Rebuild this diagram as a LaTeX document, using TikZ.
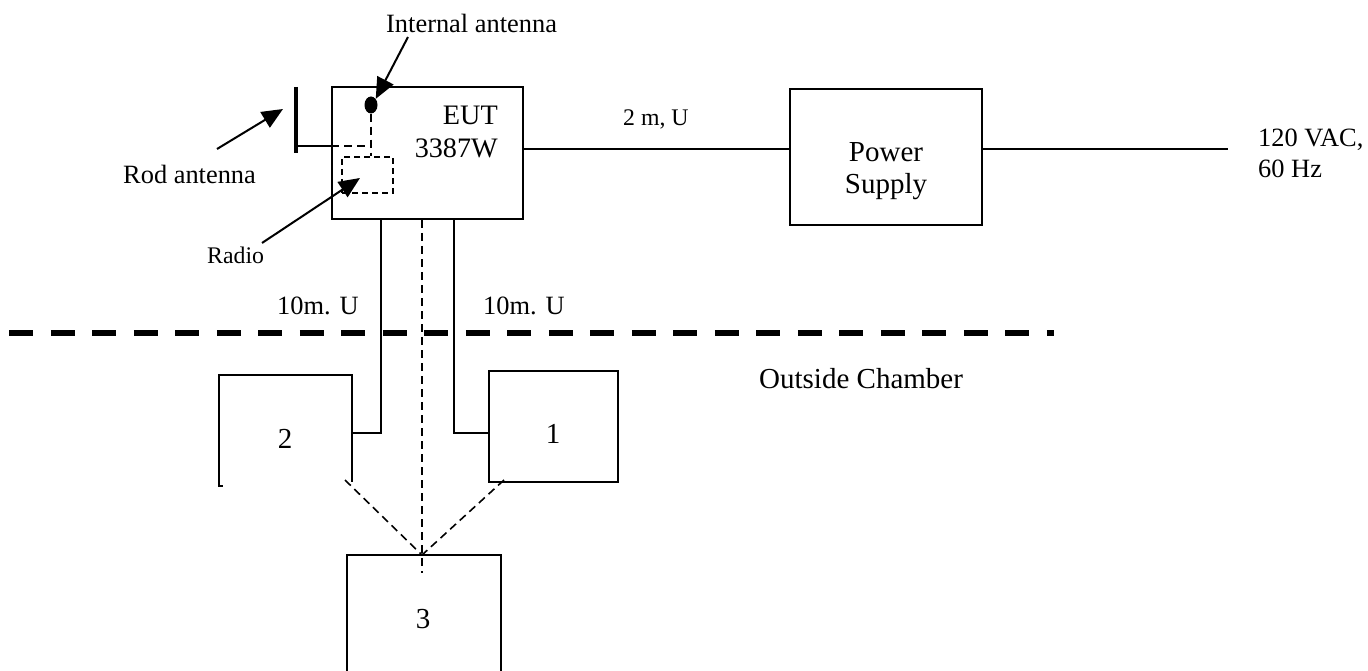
\documentclass[tikz,border=0pt]{standalone}
\usepackage{fontspec}
\setmainfont{Liberation Serif}
\usetikzlibrary{arrows.meta,shapes.geometric,calc}
\begin{document}
\begin{tikzpicture}[x=1pt,y=-1pt,
  wire/.style={line width=2pt},
  boxx/.style={draw,line width=2pt,inner sep=0pt},
  hidebox/.style={inner sep=0pt},
  lbl/.style={inner sep=0pt,font=\fontsize{26.4}{30}\selectfont},
  smalllbl/.style={inner sep=0pt,font=\fontsize{23.8}{27}\selectfont},
  biglbl/.style={inner sep=0pt,font=\fontsize{29}{31}\selectfont},
  dsh/.style={line width=1.6pt,dash pattern=on 8pt off 5pt},
  ptr/.style={line width=2pt,-{Triangle[length=21pt,width=18pt]}},
]
\useasboundingbox (0,0) rectangle (1368,671);

% boxes
\node[boxx,minimum width=191pt,minimum height=132pt] (eut) at (427.5,153) {};
\node[boxx,minimum width=192pt,minimum height=136pt] (ps) at (886,157) {};
\node[boxx,minimum width=129pt,minimum height=111pt] (b1) at (553.5,426.5) {};
\node[hidebox,minimum width=133pt,minimum height=111pt] (b2) at (285.5,430.5) {};
\node[hidebox,minimum width=154pt,minimum height=116pt] (b3) at (424,613) {};
\node[draw,dsh,line width=1.6pt,dash pattern=on 6pt off 4pt,inner sep=0pt,minimum width=51pt,minimum height=36pt] (radio) at (367.5,175) {};
\node[fill,ellipse,inner sep=0pt,minimum width=13pt,minimum height=17pt] (dot) at (371,105) {};

% partial outlines of boxes 2 and 3
\draw[wire] ($(b2.south west)+(4,0)$) -- (b2.south west) -- (b2.north west) -- (b2.north east) -- ($(b2.south east)+(0,-4)$);
\draw[wire] (b3.south west) -- (b3.north west) -- (b3.north east) -- (b3.south east);

% texts
\node[lbl,anchor=base west] (tint) at (386,33) {Internal antenna};
\node[lbl,anchor=base west] (trod) at (123,184) {Rod antenna};
\node[smalllbl,anchor=base west] (trad) at (207,263) {Radio};
\node[biglbl,anchor=base east,font=\fontsize{28.2}{31}\selectfont] (teut) at (498,125) {EUT};
\node[biglbl,anchor=base east,font=\fontsize{28.2}{31}\selectfont] (tnum) at (498,158) {3387W};
\node[smalllbl,anchor=base west] (t2m) at (623,126) {2 m, U};
\node[biglbl,anchor=base] (tpow) at (886,162) {Power};
\node[biglbl,anchor=base] (tsup) at (886,194) {Supply};
\node[lbl,anchor=base west] (tvac) at (1258,147) {120 VAC,};
\node[lbl,anchor=base west] (thz) at (1258,178) {60 Hz};
\node[lbl,anchor=base west] (t10a) at (277,314) {10m. U};
\node[lbl,anchor=base west] (t10b) at (483,314) {10m. U};
\node[biglbl,anchor=base west] (tout) at (759,388) {Outside Chamber};
\node[biglbl,anchor=base] (n1) at (553,443) {1};
\node[biglbl,anchor=base] (n2) at (285,448) {2};
\node[biglbl,anchor=base] (n3) at (423,628) {3};

% coordinates
\coordinate (pl) at (700,149);
\coordinate (mend) at (1228,149);
\coordinate (lw) at (381,433);
\coordinate (rw) at (454,433);
\coordinate (c3) at (422,555);
\coordinate (cend) at (422,573);
\coordinate (d2) at (345,480);
\coordinate (d1) at (504,480);
\coordinate (rodtop) at (296,87);
\coordinate (rodbot) at (296,153);
\coordinate (rodfeed) at (296,146);
\coordinate (feedend) at (367,146);
\coordinate (chL) at (9.3,333);
\coordinate (chR) at (1054,333);
\coordinate (ia) at (408,37);
\coordinate (ra) at (217,149);
\coordinate (rt) at (283,109);
\coordinate (rda) at (262,243);
\coordinate (rdt) at (360,178);

% power cables
\draw[wire] (eut.east |- pl) -- (ps.west |- pl);
\draw[wire] (ps.east |- pl) -- (mend);

% cables to boxes 1 and 2
\draw[wire] (eut.south -| lw) -- (lw) -- (lw -| b2.east);
\draw[wire] (eut.south -| rw) -- (rw) -- (rw -| b1.west);

% dashed links to box 3
\draw[dsh] (eut.south -| cend) -- (cend);
\draw[dsh] (d2) -- (c3);
\draw[dsh] (d1) -- (c3);

% rod antenna
\draw[line width=4pt] (rodtop) -- (rodbot);
\draw[wire] (rodfeed) -- (eut.west |- rodfeed);
\draw[dsh] (eut.west |- rodfeed) -- (feedend);
\draw[dsh] (dot.south) -- (dot.south |- radio.north);

% pointers
\draw[ptr] (ia) -- (dot.north east);
\draw[ptr] (ra) -- (rt);
\draw[ptr] (rda) -- (rdt);

% chamber boundary
\draw[line width=6pt,dash pattern=on 24pt off 17.5pt] (chL) -- (chR);
\end{tikzpicture}
\end{document}
